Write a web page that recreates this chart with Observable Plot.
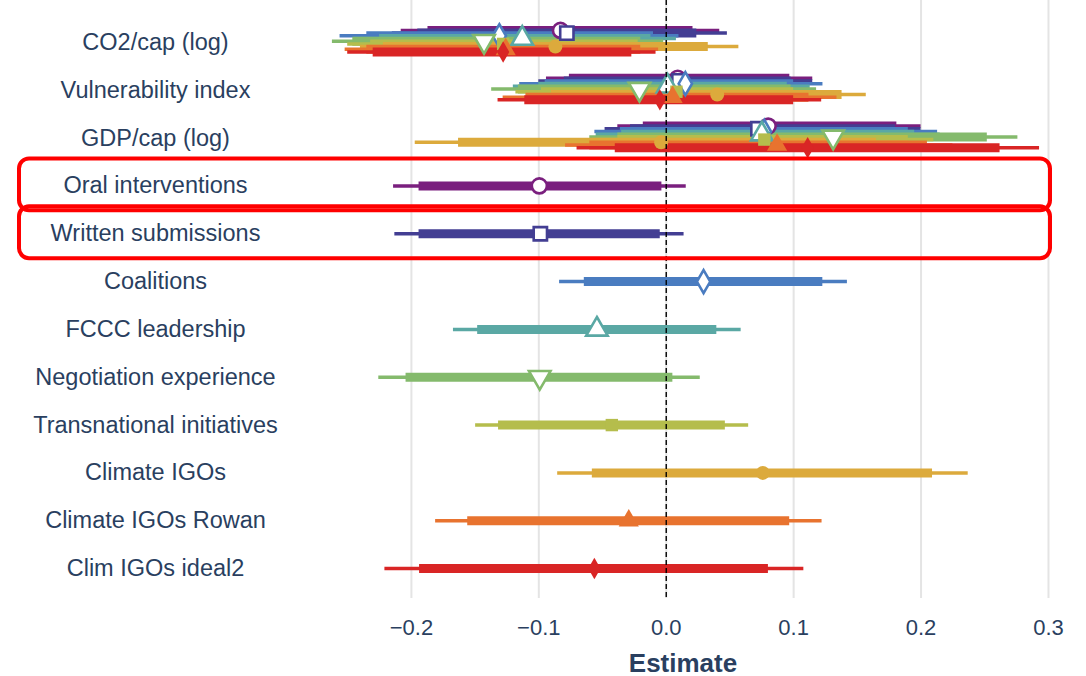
<!DOCTYPE html>
<html><head><meta charset="utf-8">
<script src="https://cdn.jsdelivr.net/npm/d3@7"></script>
<script src="https://cdn.jsdelivr.net/npm/@observablehq/plot@0.6"></script>
<style>
body{margin:0;background:#fff;font-family:"Liberation Sans",Arial,Helvetica,sans-serif;}
#xtitle{width:1086px;box-sizing:border-box;padding-left:310px;padding-right:30px;text-align:center;font-size:26px;font-weight:bold;color:#2a3f5f;height:36px;line-height:46px;overflow:visible;}
</style></head><body><div id="chart"></div><div id="xtitle">Estimate</div>
<script>
// ---- data ----
const terms = ["CO2/cap (log)", "Vulnerability index", "GDP/cap (log)", "Oral interventions", "Written submissions", "Coalitions", "FCCC leadership", "Negotiation experience", "Transnational initiatives", "Climate IGOs", "Climate IGOs Rowan", "Clim IGOs ideal2"];
const sharedTerms = ["CO2/cap (log)", "Vulnerability index", "GDP/cap (log)"];
const keyTerms = ["Oral interventions", "Written submissions", "Coalitions", "FCCC leadership", "Negotiation experience", "Transnational initiatives", "Climate IGOs", "Climate IGOs Rowan", "Clim IGOs ideal2"];
const highlightTerms = ["Oral interventions", "Written submissions"];
const models = ["Model 1", "Model 2", "Model 3", "Model 4", "Model 5", "Model 6", "Model 7", "Model 8", "Model 9"];
const modelColors = ["#7a1f7e", "#433e93", "#4a7cc0", "#5aa8a4", "#84ba6c", "#b5bd4c", "#dcaa3c", "#e8732f", "#d92525"];
const modelSymbols = ["circle", "square", "diamond", "triangle", "triangle", "square", "circle", "triangle", "diamond"];
const modelOpen = [true, true, true, true, true, false, false, false, false];
const modelRotate = [0, 0, 0, 0, 180, 0, 0, 0, 0];
const xTicks = [-0.2, -0.1, 0, 0.1, 0.2, 0.3];

// CO2/cap (log), per model
const co2Est  = [-0.083, -0.078, -0.131, -0.113, -0.143, -0.128, -0.087, -0.126, -0.128];
const co2Lo95 = [-0.208, -0.215, -0.256, -0.245, -0.262, -0.250, -0.240, -0.252, -0.250];
const co2Lo90 = [-0.187, -0.195, -0.235, -0.225, -0.246, -0.232, -0.222, -0.235, -0.230];
const co2Hi90 = [0.021, 0.024, -0.010, -0.012, -0.020, -0.022, 0.033, -0.020, -0.027];
const co2Hi95 = [0.042, 0.048, 0.010, 0.008, -0.002, -0.004, 0.057, -0.006, -0.008];
// Vulnerability index
const vulEst  = [0.009, 0.010, 0.015, 0.001, -0.021, 0.008, 0.040, 0.005, -0.005];
const vulLo95 = [-0.094, -0.100, -0.115, -0.120, -0.137, -0.118, -0.110, -0.128, -0.132];
const vulLo90 = [-0.076, -0.080, -0.095, -0.100, -0.116, -0.098, -0.090, -0.110, -0.111];
const vulHi90 = [0.097, 0.098, 0.100, 0.095, 0.098, 0.100, 0.138, 0.112, 0.100];
const vulHi95 = [0.115, 0.115, 0.123, 0.113, 0.118, 0.118, 0.157, 0.134, 0.122];
// GDP/cap (log)
const gdpEst  = [0.080, 0.072, 0.077, 0.075, 0.131, 0.077, -0.004, 0.087, 0.111];
const gdpLo95 = [-0.038, -0.048, -0.056, -0.055, -0.060, -0.058, -0.197, -0.079, -0.070];
const gdpLo90 = [-0.018, -0.028, -0.036, -0.035, -0.038, -0.038, -0.163, -0.060, -0.040];
const gdpHi90 = [0.181, 0.180, 0.190, 0.195, 0.252, 0.190, 0.165, 0.205, 0.262];
const gdpHi95 = [0.200, 0.200, 0.213, 0.215, 0.276, 0.210, 0.190, 0.225, 0.293];
// key variable of each model
const keyEst  = [-0.0996, -0.0988, 0.0293, -0.0544, -0.0993, -0.0427, 0.0758, -0.0294, -0.0564];
const keyLo95 = [-0.214, -0.213, -0.0837, -0.167, -0.2256, -0.1496, -0.0852, -0.181, -0.2208];
const keyLo90 = [-0.194, -0.194, -0.0643, -0.148, -0.2042, -0.1316, -0.058, -0.1558, -0.1936];
const keyHi90 = [-0.0034, -0.0047, 0.1229, 0.0397, 0.0052, 0.0464, 0.209, 0.0969, 0.0802];
const keyHi95 = [0.0157, 0.014, 0.1422, 0.0588, 0.0267, 0.0647, 0.237, 0.1223, 0.108];

// ---- build tables ----
const sharedSets = [
  [co2Est, co2Lo95, co2Lo90, co2Hi90, co2Hi95],
  [vulEst, vulLo95, vulLo90, vulHi90, vulHi95],
  [gdpEst, gdpLo95, gdpLo90, gdpHi90, gdpHi95]
];
function rowsFor(i) {
  const shared = sharedTerms.map((t, k) => {
    const s = sharedSets[k];
    return {term: t, model: models[i], est: s[0][i], lo95: s[1][i], lo90: s[2][i], hi90: s[3][i], hi95: s[4][i]};
  });
  const key = [{term: keyTerms[i], model: models[i], est: keyEst[i], lo95: keyLo95[i], lo90: keyLo90[i], hi90: keyHi90[i], hi95: keyHi95[i]}];
  return {shared, key};
}
const symbolR = {circle: 7.5, square: 7.5, diamond: 7, triangle: 8};

const lineMarks = [];
const dotMarks = [];
models.forEach((m, i) => {
  const {shared, key} = rowsFor(i);
  const c = modelColors[i];
  const off = -12 + i * 2.7;
  [[shared, off], [key, 0]].forEach(([data, dy]) => {
    lineMarks.push(Plot.ruleY(data, {y: "term", x1: "lo95", x2: "hi95", stroke: c, strokeWidth: 3.5, dy}));
    lineMarks.push(Plot.ruleY(data, {y: "term", x1: "lo90", x2: "hi90", stroke: c, strokeWidth: 9, dy}));
    dotMarks.push(Plot.dot(data, {
      x: "est", y: "term", dy,
      symbol: modelSymbols[i], r: symbolR[modelSymbols[i]] - (modelOpen[i] ? 0 : 0.5), rotate: modelRotate[i],
      fill: modelOpen[i] ? "white" : c,
      stroke: modelOpen[i] ? c : "none",
      strokeWidth: modelOpen[i] ? 2.6 : 0
    }));
  });
});

const chart = Plot.plot({
  width: 1086, height: 640,
  marginLeft: 310, marginRight: 30, marginTop: 0, marginBottom: 42,
  style: {fontFamily: '"Liberation Sans", Arial, Helvetica, sans-serif', color: "#2a3f5f", background: "white"},
  x: {domain: [-0.2792, 0.3063]},
  y: {type: "band", domain: terms, padding: 0, round: false, insetTop: 18, insetBottom: 6},
  marks: [
    Plot.gridX({ticks: xTicks, stroke: "#e4e4e4", strokeOpacity: 1, strokeWidth: 2}),
    Plot.axisX({ticks: xTicks, tickSize: 0, tickPadding: 21, tickFormat: d3.format(".1f"), fontSize: 22, label: null}),
    Plot.axisY({tickSize: 0, tickPadding: 155, textAnchor: "middle", fontSize: 23.5, label: null}),
    ...lineMarks,
    ...dotMarks,
    Plot.ruleX([0], {stroke: "black", strokeWidth: 1.4, strokeDasharray: "5,3"}),
    Plot.cell(highlightTerms, {y: d => d, fill: "none", stroke: "#ff0000", strokeWidth: 4, rx: 10, insetLeft: -291, insetRight: 6, insetTop: -3, insetBottom: -1})
  ]
});
document.getElementById("chart").appendChild(chart);
</script></body></html>
